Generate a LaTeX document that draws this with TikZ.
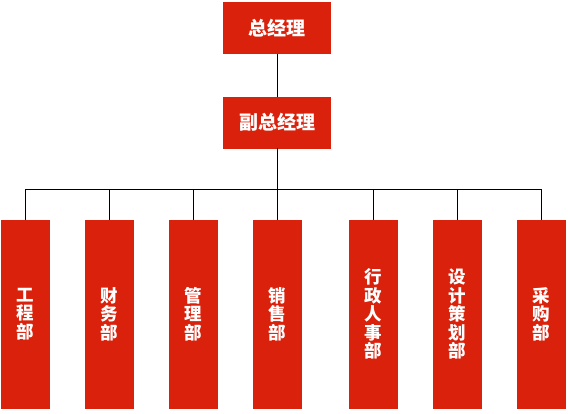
\documentclass[tikz,border=0pt]{standalone}
\usepackage{fontspec}
\newfontfamily\cjk{Noto Sans CJK SC}
\usetikzlibrary{positioning}
\definecolor{boxred}{RGB}{217,33,11}
\definecolor{linkblack}{RGB}{0,0,0}
\tikzset{
  mgr/.style ={rectangle, draw=boxred, fill=boxred, text=white, inner sep=0pt,
               minimum width=107pt, minimum height=51pt,
               font=\cjk\bfseries\fontsize{19}{21}\selectfont},
  dept/.style={rectangle, draw=boxred, fill=boxred, text=white, inner sep=0pt,
               minimum width=48pt, minimum height=188pt, align=center,
               font=\cjk\bfseries\fontsize{17.5}{18.5}\selectfont},
  link/.style={draw=linkblack, line width=0.9pt},
}
\begin{document}
\begin{tikzpicture}[x=1pt, y=-1pt]
\useasboundingbox (0,0) rectangle (568,413);
\node[mgr] (gm) at (277,28) {总经理};
\node[mgr, below=43pt of gm] (vgm) {副总经理};
\coordinate (bus) at (277,189);
\foreach \nm/\x/\txt in {eng/25/{工\\程\\部}, fin/109/{财\\务\\部}, adm/193/{管\\理\\部},
  sal/277/{销\\售\\部}, hr/373/{行\\政\\人\\事\\部}, des/457/{设\\计\\策\\划\\部}, pur/541/{采\\购\\部}}
  \node[dept] (\nm) at (\x,314) {\txt};
\draw[link] (gm) -- (vgm);
\draw[link] (vgm) -- (bus);
\foreach \nm in {eng,fin,adm,sal,hr,des,pur} \draw[link] (bus) -| (\nm.north);
\end{tikzpicture}
\end{document}
